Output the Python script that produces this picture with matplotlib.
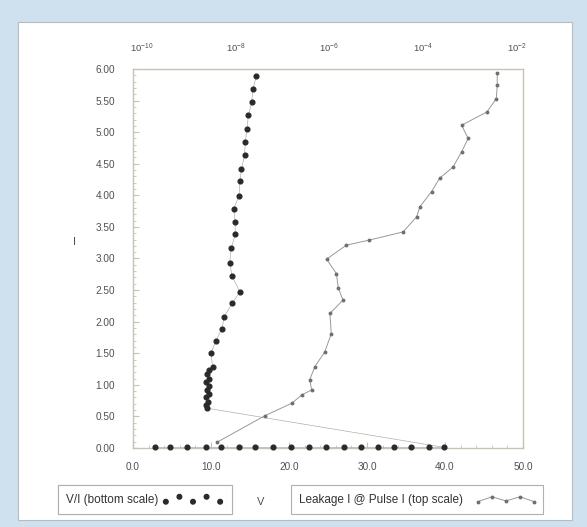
import matplotlib
matplotlib.use("Agg")
import matplotlib.pyplot as plt
import numpy as np
from matplotlib.lines import Line2D
from matplotlib.patches import Rectangle
from matplotlib.ticker import MultipleLocator, FixedLocator, FormatStrFormatter

plt.rcParams['font.family'] = ['Liberation Sans', 'DejaVu Sans']

# V/I series (bottom scale): voltage V vs pulse current I
vi_v = [2.8, 4.8, 6.9, 9.3, 11.3, 13.6, 15.6, 17.9, 20.3, 22.6, 24.7, 27.0,
        29.2, 31.4, 33.5, 35.6, 38.0, 39.9,
        9.5, 9.3, 9.6, 9.4, 9.7, 9.5, 9.8, 9.4, 9.7, 9.5, 9.8,
        10.2, 10.0, 10.6, 11.4, 11.7, 12.7, 13.7, 12.7, 12.4, 12.6, 13.1,
        13.1, 12.9, 13.6, 13.7, 13.9, 14.3, 14.4, 14.6, 14.8, 15.2, 15.4, 15.8]
vi_i = [0.01] * 18 + [
        0.63, 0.68, 0.73, 0.80, 0.86, 0.92, 0.98, 1.04, 1.10, 1.17, 1.23,
        1.29, 1.50, 1.69, 1.89, 2.08, 2.29, 2.47, 2.72, 2.93, 3.16, 3.38,
        3.58, 3.79, 3.99, 4.22, 4.41, 4.64, 4.85, 5.05, 5.27, 5.47, 5.69, 5.89]

# leakage current (top scale, log10 of A) vs pulse current I
leak_log = [-8.40, -7.38, -6.80, -6.59, -6.38, -6.42, -6.31, -6.10, -5.96,
            -5.99, -5.71, -5.81, -5.85, -6.06, -5.64, -5.16, -4.43, -4.14,
            -4.07, -3.82, -3.65, -3.36, -3.18, -3.04, -3.18, -2.64, -2.44,
            -2.42, -2.42]
leak_i = [0.09, 0.51, 0.71, 0.84, 0.92, 1.08, 1.29, 1.52, 1.81, 2.13, 2.34,
          2.53, 2.76, 2.99, 3.21, 3.29, 3.42, 3.66, 3.82, 4.06, 4.27, 4.45,
          4.69, 4.90, 5.11, 5.32, 5.53, 5.74, 5.93]
leak_a = [10.0 ** v for v in leak_log]

top_ticks = [1e-10, 1e-8, 1e-6, 1e-4, 1e-2]

spine_c = '#c8c2b4'
text_c = '#505050'

fig = plt.figure(figsize=(5.87, 5.27), dpi=100, facecolor='#cfe0ee')
fig.patches.append(Rectangle((0.031, 0.013), 0.944, 0.945, transform=fig.transFigure,
                             facecolor='white', edgecolor='#b8bcc0', lw=0.8, zorder=-5))

ax = fig.add_axes([0.2266, 0.1499, 0.6644, 0.7192])
ax.plot(vi_v, vi_i, color='#b0b0a8', lw=0.5, marker='o', ms=3.4,
        mfc='#2a2a2a', mec='#2a2a2a', clip_on=False, zorder=3)
ax.set_xlim(0, 50)
ax.set_ylim(0, 6)
ax.xaxis.set_major_locator(MultipleLocator(10))
ax.xaxis.set_minor_locator(MultipleLocator(2))
ax.yaxis.set_major_locator(MultipleLocator(0.5))
ax.yaxis.set_minor_locator(MultipleLocator(0.1))
ax.xaxis.set_major_formatter(FormatStrFormatter('%.1f'))
ax.yaxis.set_major_formatter(FormatStrFormatter('%.2f'))
ax.tick_params(axis='both', which='both', colors=spine_c, labelcolor=text_c,
               labelsize=7.2, direction='in')
ax.tick_params(axis='both', which='major', length=4)
ax.tick_params(axis='both', which='minor', length=2)
ax.tick_params(axis='x', pad=10)
ax.tick_params(axis='y', pad=13)
for s in ax.spines.values():
    s.set_color(spine_c)
    s.set_linewidth(1.0)
ax.set_xlabel('V', fontsize=8, color=text_c)
ax.xaxis.set_label_coords(0.326, -0.129)
ax.set_ylabel('I', fontsize=8, color=text_c, rotation=0, va='center')
ax.yaxis.set_label_coords(-0.149, 0.544)

ax2 = ax.twiny()
ax2.set_xscale('log')
ax2.set_xlim(10 ** -10.19, 10 ** -1.87)
ax2.plot(leak_a, leak_i, color='#9a9a94', lw=0.7, marker='o', ms=1.8,
         mfc='#707070', mec='#707070', zorder=2)
ax2.xaxis.set_major_locator(FixedLocator(top_ticks))
ax2.xaxis.set_minor_locator(FixedLocator([]))
ax2.tick_params(axis='x', colors=spine_c, labelcolor=text_c, labelsize=6.8,
                length=0, pad=10)
for s in ax2.spines.values():
    s.set_visible(False)


class ZigZag:
    def legend_artist(self, legend, orig_handle, fontsize, handlebox):
        x0, y0 = handlebox.xdescent, handlebox.ydescent
        w, h = handlebox.width, handlebox.height
        xs = x0 + w * np.linspace(0, 1, 5)
        ys = y0 + h * np.array([0.1, 0.7, 0.2, 0.7, 0.1])
        line = Line2D(xs, ys, color='#9a9a94', lw=0.7, marker='o', ms=1.8,
                      mfc='#707070', mec='#707070',
                      transform=handlebox.get_transform())
        handlebox.add_artist(line)
        return line


h1 = ax.scatter([], [], s=11, color='#2a2a2a')
leg1 = fig.legend([h1], ['V/I (bottom scale)'], loc='lower left',
                  bbox_to_anchor=(0.099, 0.025), markerfirst=False,
                  scatterpoints=5, scatteryoffsets=[0.1, 0.7, 0.1, 0.7, 0.1],
                  handlelength=5.2, fontsize=8.5, fancybox=False,
                  edgecolor='#b0b0b0', framealpha=1, borderpad=0.7,
                  handletextpad=0.3, borderaxespad=0)
leg1.get_frame().set_linewidth(0.8)
for t in leg1.get_texts():
    t.set_color('#333333')
fig.add_artist(leg1)

h2 = Line2D([], [], color='#8a8a8a')
leg2 = fig.legend([h2], ['Leakage I @ Pulse I (top scale)'], loc='lower left',
                  bbox_to_anchor=(0.496, 0.025), markerfirst=False,
                  handler_map={Line2D: ZigZag()}, handlelength=4.8,
                  fontsize=8.5, fancybox=False, edgecolor='#b0b0b0',
                  framealpha=1, borderpad=0.7, handletextpad=1.2,
                  borderaxespad=0)
leg2.get_frame().set_linewidth(0.8)
for t in leg2.get_texts():
    t.set_color('#333333')

fig.savefig('out.png', dpi=100, facecolor=fig.get_facecolor())
